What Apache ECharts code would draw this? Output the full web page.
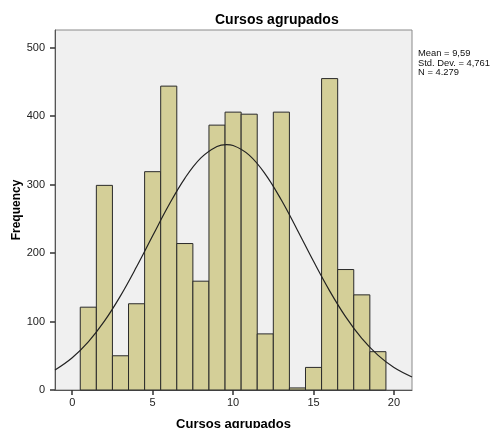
<!DOCTYPE html>
<html>
<head>
<meta charset="utf-8">
<script src="https://cdn.jsdelivr.net/npm/echarts@6/dist/echarts.min.js"></script>
<style>
html,body{margin:0;padding:0;background:#fff;}
#chart{width:492px;height:428px;}
</style>
</head>
<body>
<div id="chart"></div>
<script>
// Histogram bins (bin centre) and frequencies
const binCenters = [1,2,3,4,5,6,7,8,9,10,11,12,13,14,15,16,17,18,19];
const frequencies = [121,299,50,126,319,444,214,159,387,406,403,82,406,3,33,455,176,139,56];
// Normal curve points
const curveX = [-1.07,0,1,2,3,4,5,6,7,8,9,9.59,10,11,12,13,14,15,16,17,18,19,20,21.12];
const curveY = [29.3,47.2,70.4,100.6,137.6,180.0,225.3,269.9,309.3,339.2,355.9,358.6,357.3,343.2,315.5,277.5,233.5,188.0,144.9,106.8,75.3,50.9,32.8,19.1];
const xTicks = [0,5,10,15,20];
const yTicks = [0,100,200,300,400,500];
const statsLines = ['Mean = 9,59','Std. Dev. = 4,761','N = 4.279'];
const titleText = 'Cursos agrupados';
const xName = 'Cursos agrupados';
const yName = 'Frequency';

const chart = echarts.init(document.getElementById('chart'), null, {renderer:'canvas'});
const font = 'Arial, "Liberation Sans", sans-serif';
const option = {
  animation:false,
  backgroundColor:'#ffffff',
  title:{text:titleText,left:210,top:8,textStyle:{fontFamily:font,fontSize:14,fontWeight:'bold',color:'#000'}},
  grid:{left:55,top:30,width:357,height:360,show:true,backgroundColor:'#f0f0f0',borderColor:'#8a8a8a',borderWidth:1,containLabel:false,outerBoundsMode:'none'},
  xAxis:{
    type:'value',min:-1.07,max:21.12,
    name:xName,nameLocation:'middle',nameGap:28,nameMoveOverlap:false,
    nameTextStyle:{fontFamily:font,fontSize:13,fontWeight:'bold',color:'#000'},
    axisLine:{show:true,onZero:false,lineStyle:{color:'#555',width:1}},
    axisTick:{show:true,inside:false,length:5,customValues:xTicks,lineStyle:{color:'#333',width:1.5}},
    axisLabel:{customValues:xTicks,margin:7,fontFamily:font,fontSize:11,color:'#222'},
    splitLine:{show:false}
  },
  yAxis:{
    type:'value',min:0,max:526,
    name:yName,nameLocation:'middle',nameGap:32,nameMoveOverlap:false,
    nameTextStyle:{fontFamily:font,fontSize:12,fontWeight:'bold',color:'#000'},
    axisLine:{show:true,onZero:false,lineStyle:{color:'#555',width:1}},
    axisTick:{show:true,inside:false,length:5,customValues:yTicks,lineStyle:{color:'#333',width:1.5}},
    axisLabel:{customValues:yTicks,margin:10,fontFamily:font,fontSize:11,color:'#222'},
    splitLine:{show:false}
  },
  graphic:[{
    type:'text',left:418,top:49,
    style:{text:statsLines.join('\n'),font:'9.4px '+font,fill:'#111',lineHeight:9.5}
  }],
  series:[
    {
      type:'custom',
      data:binCenters.map((c,i)=>[c,frequencies[i]]),
      renderItem:function(params,api){
        const c=api.value(0), v=api.value(1);
        const p0=api.coord([c-0.5,v]);
        const p1=api.coord([c+0.5,0]);
        return {type:'rect',shape:{x:p0[0],y:p0[1],width:p1[0]-p0[0],height:p1[1]-p0[1]},
          style:{fill:'#d4cf98',stroke:'#2a2a2a',lineWidth:1}};
      },
      z:2
    },
    {
      type:'line',
      data:curveX.map((x,i)=>[x,curveY[i]]),
      smooth:0.4,showSymbol:false,symbol:'none',
      lineStyle:{color:'#222',width:1.2},
      z:3
    }
  ]
};
chart.setOption(option);
</script>
</body>
</html>
